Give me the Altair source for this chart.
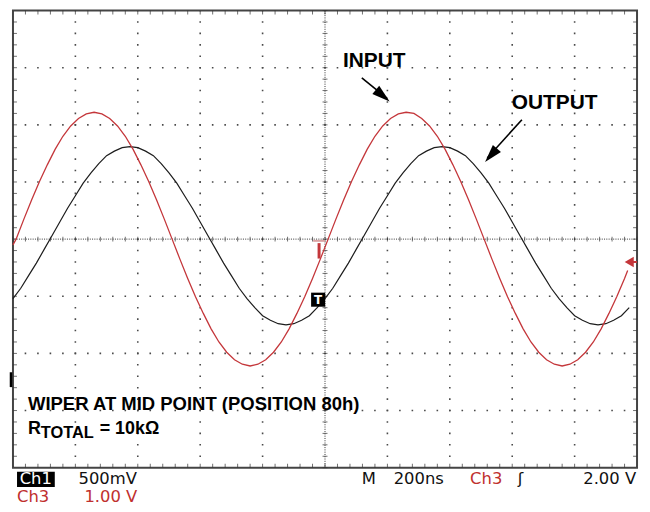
import altair as alt
import numpy as np
import pandas as pd

# ---------------- values ----------------
# horizontal: M 200 ns/div, 10 divisions -> -1000 .. 1000 ns (trigger at centre)
# vertical: 8 divisions; Ch3 (INPUT, red) 1.00 V/div, Ch1 (OUTPUT, black) 500 mV/div
ch3_v_per_div = 1.00
ch1_v_per_div = 0.50

input_t = [-1000] + list(range(-990, 961, 25)) + [970]
input_v = [
    -0.10,
    0.00, 0.35, 0.69, 1.01, 1.30, 1.57, 1.80, 1.98, 2.11, 2.19,
    2.22, 2.19, 2.11, 1.98, 1.80, 1.57, 1.30, 1.01, 0.69, 0.35,
    0.00, -0.35, -0.69, -1.01, -1.30, -1.57, -1.80, -1.98, -2.11, -2.19,
    -2.22, -2.19, -2.11, -1.98, -1.80, -1.57, -1.30, -1.01, -0.69, -0.35,
    0.00, 0.35, 0.69, 1.01, 1.30, 1.57, 1.80, 1.98, 2.11, 2.19,
    2.22, 2.20, 2.11, 1.98, 1.80, 1.57, 1.30, 1.01, 0.69, 0.35,
    0.00, -0.35, -0.69, -1.01, -1.30, -1.57, -1.80, -1.98, -2.11, -2.19,
    -2.22, -2.19, -2.11, -1.98, -1.80, -1.57, -1.30, -1.01, -0.69,
    -0.55,
]

output_t = list(range(-1000, 976, 25))
output_v = [
    -0.52, -0.43, -0.32, -0.21, -0.09, 0.03, 0.15, 0.27, 0.38, 0.49,
    0.58, 0.66, 0.73, 0.77, 0.80, 0.81, 0.80, 0.77, 0.73, 0.66,
    0.58, 0.49, 0.38, 0.27, 0.15, 0.03, -0.09, -0.21, -0.32, -0.43,
    -0.52, -0.60, -0.67, -0.71, -0.74, -0.75, -0.74, -0.71, -0.67, -0.60,
    -0.52, -0.43, -0.32, -0.21, -0.09, 0.03, 0.15, 0.27, 0.38, 0.49,
    0.58, 0.66, 0.73, 0.77, 0.80, 0.81, 0.80, 0.77, 0.73, 0.66,
    0.58, 0.49, 0.38, 0.27, 0.15, 0.03, -0.09, -0.21, -0.32, -0.43,
    -0.52, -0.60, -0.67, -0.71, -0.74, -0.75, -0.74, -0.71, -0.67, -0.60,
]

assert len(input_t) == len(input_v)
assert len(output_t) == len(output_v)

status_row1 = ["500mV", "M", "200ns", "Ch3", "\u0283", "2.00 V"]
status_row2 = ["Ch3", "1.00 V"]

# ---------------- tables ----------------
inp = pd.DataFrame({"t": input_t, "d": np.array(input_v) / ch3_v_per_div})
out = pd.DataFrame({"t": output_t, "d": np.array(output_v) / ch1_v_per_div})

W, H = 628, 460
xs = alt.Scale(domain=[-1000, 1000], nice=False, zero=False)
ys = alt.Scale(domain=[-4, 4], nice=False, zero=False)


def X(f):
    return alt.X(f, type="quantitative", scale=xs, axis=None)


def Y(f):
    return alt.Y(f, type="quantitative", scale=ys, axis=None)


RED = "#c4363a"
RED_TXT = "#c0302e"
GRID = "#4a4a4a"
SFONT = 16.5
ROW1 = -4.287
ROW2 = -4.609

layers = []

# graticule: dotted major lines (one dot every 1/5 division)
vgrid = pd.DataFrame({"t": [-800, -600, -400, -200, 200, 400, 600, 800]})
hgrid = pd.DataFrame({"d": [-3, -2, -1, 1, 2, 3]})
vstep = H / 40.0
hstep = W / 50.0
layers.append(alt.Chart(vgrid).mark_rule(color=GRID, strokeWidth=1.6,
                                         strokeDash=[1.6, vstep - 1.6],
                                         strokeDashOffset=0.8).encode(x=X("t")))
layers.append(alt.Chart(hgrid).mark_rule(color=GRID, strokeWidth=1.6,
                                         strokeDash=[1.6, hstep - 1.6],
                                         strokeDashOffset=0.8).encode(y=Y("d")))

# centre lines (fine dotted) with minor ticks
layers.append(alt.Chart(pd.DataFrame({"t": [0]})).mark_rule(
    color="#333", strokeWidth=1, strokeDash=[1, 1.3]).encode(x=X("t")))
layers.append(alt.Chart(pd.DataFrame({"d": [0]})).mark_rule(
    color="#333", strokeWidth=1, strokeDash=[1, 1.3]).encode(y=Y("d")))

t_minor = np.arange(-1000, 1001, 40)
d_minor = np.round(np.arange(-4, 4.001, 0.2), 2)
ct = pd.DataFrame({"t": t_minor, "d": 0.0})
cd = pd.DataFrame({"t": 0.0, "d": d_minor})
layers.append(alt.Chart(ct).mark_tick(orient="vertical", size=5, thickness=1,
                                      color="#333").encode(x=X("t"), y=Y("d")))
layers.append(alt.Chart(cd).mark_tick(orient="horizontal", size=5, thickness=1,
                                      color="#333").encode(x=X("t"), y=Y("d")))

# frame ticks
top = pd.DataFrame({"t": t_minor[1:-1], "d": 4.0})
bot = pd.DataFrame({"t": t_minor[1:-1], "d": -4.0})
lft = pd.DataFrame({"t": -1000.0, "d": d_minor[1:-1]})
rgt = pd.DataFrame({"t": 1000.0, "d": d_minor[1:-1]})
layers.append(alt.Chart(top).mark_tick(orient="vertical", size=4, thickness=1, yOffset=2,
                                       color="#333").encode(x=X("t"), y=Y("d")))
layers.append(alt.Chart(bot).mark_tick(orient="vertical", size=4, thickness=1, yOffset=-2,
                                       color="#333").encode(x=X("t"), y=Y("d")))
layers.append(alt.Chart(lft).mark_tick(orient="horizontal", size=4, thickness=1, xOffset=2,
                                       color="#333").encode(x=X("t"), y=Y("d")))
layers.append(alt.Chart(rgt).mark_tick(orient="horizontal", size=4, thickness=1, xOffset=-2,
                                       color="#333").encode(x=X("t"), y=Y("d")))

# traces
layers.append(alt.Chart(out).mark_line(color="#1c1c1c", strokeWidth=1.2).encode(
    x=X("t"), y=Y("d")))
layers.append(alt.Chart(inp).mark_line(color=RED, strokeWidth=1.3).encode(
    x=X("t"), y=Y("d")))

# trigger position marker (red T) and Ch1 marker (black box)
layers.append(alt.Chart(pd.DataFrame({"t": [-38], "t2": [0], "d": [-0.03]})).mark_rule(
    color="#d9a3a3", strokeWidth=2).encode(x=X("t"), x2="t2", y=Y("d")))
layers.append(alt.Chart(pd.DataFrame({"t": [-19], "d": [-0.07], "d2": [-0.34]})).mark_rule(
    color=RED, strokeWidth=3).encode(x=X("t"), y=Y("d"), y2="d2"))
box = pd.DataFrame({"t": [-22], "d": [-1.06]})
layers.append(alt.Chart(box).mark_square(size=200, color="black", opacity=1).encode(
    x=X("t"), y=Y("d")))
layers.append(alt.Chart(box).mark_text(text="T", color="white", fontSize=12, fontWeight="bold",
                                       font="DejaVu Sans", baseline="middle").encode(
    x=X("t"), y=Y("d")))

# trigger level arrow at right edge (red) and ground mark at left edge (black)
tl = pd.DataFrame({"t": [975], "t2": [1000], "d": [-0.40]})
layers.append(alt.Chart(tl).mark_rule(color=RED, strokeWidth=2).encode(
    x=X("t"), x2="t2", y=Y("d")))
layers.append(alt.Chart(tl).mark_point(shape="triangle-left", size=110, filled=True,
                                       color=RED, opacity=1).encode(x=X("t"), y=Y("d")))
layers.append(alt.Chart(pd.DataFrame({"t": [-1000], "d": [-2.33], "d2": [-2.59]})).mark_rule(
    color="black", strokeWidth=2.5, xOffset=-2).encode(x=X("t"), y=Y("d"), y2="d2"))

# annotations with arrows
lab = pd.DataFrame({"t": [158, 736], "d": [3.12, 2.39], "txt": ["INPUT", "OUTPUT"]})
layers.append(alt.Chart(lab).mark_text(font="Liberation Sans", fontWeight="bold", fontSize=21,
                                       color="black", baseline="middle", align="center").encode(
    x=X("t"), y=Y("d"), text="txt:N"))

arrows = pd.DataFrame({"t": [118, 631], "d": [2.82, 2.09], "t2": [200, 520], "d2": [2.46, 1.42]})
layers.append(alt.Chart(arrows).mark_rule(color="black", strokeWidth=1.6).encode(
    x=X("t"), y=Y("d"), x2="t2", y2="d2"))
head = "M0,0L-0.3,1L0.3,1Z"
layers.append(alt.Chart(pd.DataFrame({"t": [207], "d": [2.41]})).mark_point(
    shape=head, size=1300, filled=True, color="black", opacity=1, angle=129.7,
    strokeWidth=0).encode(x=X("t"), y=Y("d")))
layers.append(alt.Chart(pd.DataFrame({"t": [513], "d": [1.35]})).mark_point(
    shape=head, size=1300, filled=True, color="black", opacity=1, angle=221.35,
    strokeWidth=0).encode(x=X("t"), y=Y("d")))

notes = pd.DataFrame({"t": [-952], "d": [-2.99], "txt": ["WIPER AT MID POINT (POSITION 80h)"]})
layers.append(alt.Chart(notes).mark_text(font="Liberation Sans", fontWeight="bold", fontSize=18.6,
                                         color="black", align="left", baseline="alphabetic").encode(
    x=X("t"), y=Y("d"), text="txt:N"))
rt = pd.DataFrame({"t": [-952, -722], "d": [-3.41, -3.41], "txt": ["R", "= 10k\u03a9"]})
layers.append(alt.Chart(rt).mark_text(font="Liberation Sans", fontWeight="bold", fontSize=18,
                                      color="black", align="left", baseline="alphabetic").encode(
    x=X("t"), y=Y("d"), text="txt:N"))
layers.append(alt.Chart(pd.DataFrame({"t": [-911], "d": [-3.48], "txt": ["TOTAL"]})).mark_text(
    font="Liberation Sans", fontWeight="bold", fontSize=16.5, color="black", align="left",
    baseline="alphabetic").encode(x=X("t"), y=Y("d"), text="txt:N"))

# status line below the screen
layers.append(alt.Chart(pd.DataFrame({"t": [-987], "t2": [-866], "d": [-4.07], "d2": [-4.34]})).mark_rect(
    color="black").encode(x=X("t"), x2="t2", y=Y("d"), y2="d2"))
layers.append(alt.Chart(pd.DataFrame({"t": [-927], "d": [ROW1], "txt": ["Ch1"]})).mark_text(
    font="DejaVu Sans", fontSize=SFONT, color="white", align="center", baseline="alphabetic").encode(
    x=X("t"), y=Y("d"), text="txt:N"))

row1 = pd.DataFrame({"t": [-790, 118, 220, 465, 618], "d": ROW1,
                     "txt": status_row1[:5],
                     "col": ["k", "k", "k", "r", "k"]})
layers.append(alt.Chart(row1).mark_text(font="DejaVu Sans", fontSize=SFONT, align="left",
                                        baseline="alphabetic").encode(
    x=X("t"), y=Y("d"), text="txt:N",
    color=alt.Color("col:N", scale=alt.Scale(domain=["k", "r"], range=["#111111", RED_TXT]),
                    legend=None)))
layers.append(alt.Chart(pd.DataFrame({"t": [997], "d": [ROW1], "txt": [status_row1[5]]})).mark_text(
    font="DejaVu Sans", fontSize=SFONT, align="right", color="#111111", baseline="alphabetic").encode(
    x=X("t"), y=Y("d"), text="txt:N"))
row2 = pd.DataFrame({"t": [-987, -771], "d": ROW2, "txt": status_row2})
layers.append(alt.Chart(row2).mark_text(font="DejaVu Sans", fontSize=SFONT, align="left",
                                        color=RED_TXT, baseline="alphabetic").encode(
    x=X("t"), y=Y("d"), text="txt:N"))

chart = alt.layer(*layers).properties(
    width=W, height=H,
    padding={"left": 5, "right": 5, "top": 1, "bottom": 39},
    autosize=alt.AutoSizeParams(type="none"),
    background="white",
).configure_view(stroke="#444444", strokeWidth=2, fill="white")

chart.save("out.html", embed_options={"renderer": "svg", "actions": False})
